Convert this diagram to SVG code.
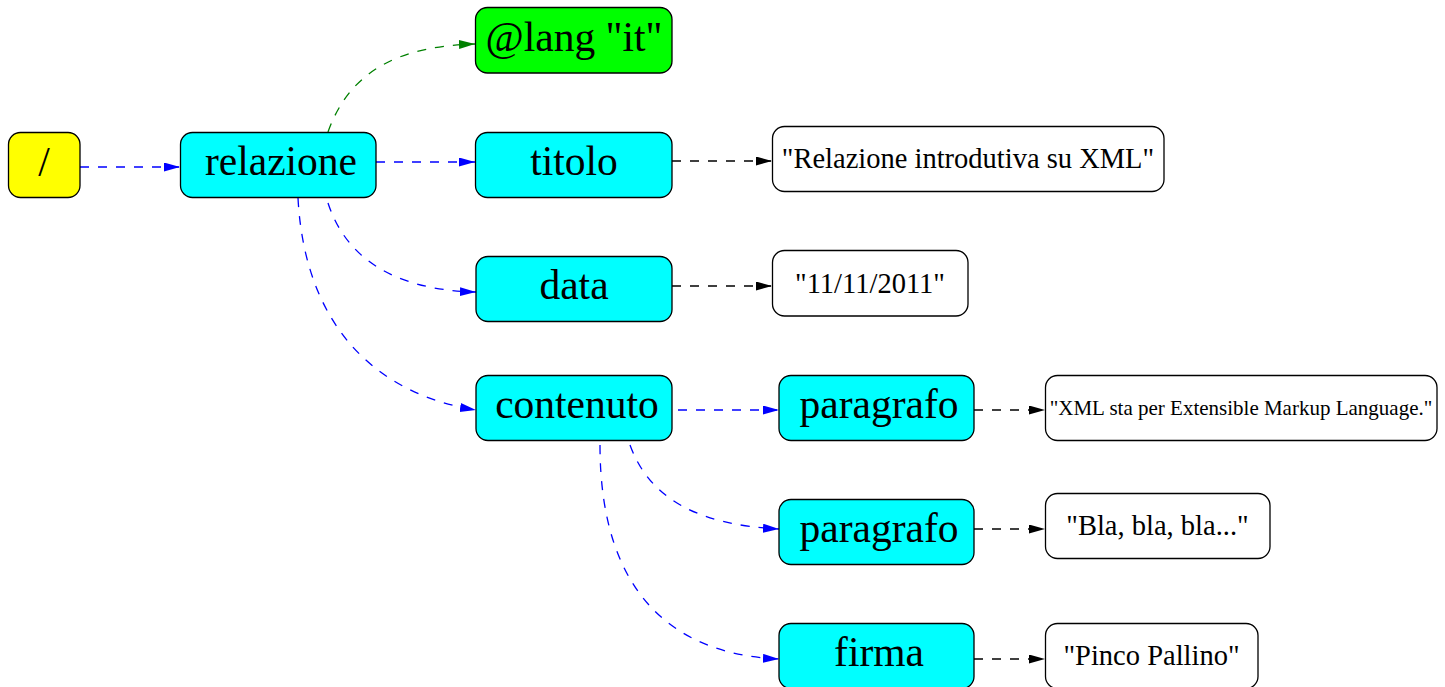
<svg xmlns="http://www.w3.org/2000/svg" width="1445" height="687" viewBox="0 0 1445 687">
<style>
.box{stroke:#000;stroke-width:1.3}
.big{font-family:"Liberation Serif","Times New Roman",serif;font-size:41.5px;text-anchor:middle;fill:#000}
.leaf{font-family:"Liberation Serif","Times New Roman",serif;font-size:28.5px;text-anchor:middle;fill:#000}
.small{font-family:"Liberation Serif","Times New Roman",serif;font-size:21px;text-anchor:middle;fill:#000}
.e{fill:none;stroke-width:1.3;stroke-dasharray:9,9}
.blue{stroke:#0000ff;marker-end:url(#ab)}
.green{stroke:#008000;marker-end:url(#ag)}
.black{stroke:#000;marker-end:url(#ak)}
</style>
<defs>
<marker id="ab" markerUnits="userSpaceOnUse" markerWidth="17" markerHeight="10" refX="16" refY="4.5" orient="auto"><path d="M0,0 L16,4.5 L0,9 z" fill="#0000ff"/></marker>
<marker id="ag" markerUnits="userSpaceOnUse" markerWidth="17" markerHeight="10" refX="16" refY="4.5" orient="auto"><path d="M0,0 L16,4.5 L0,9 z" fill="#008000"/></marker>
<marker id="ak" markerUnits="userSpaceOnUse" markerWidth="17" markerHeight="10" refX="16" refY="4.5" orient="auto"><path d="M0,0 L16,4.5 L0,9 z" fill="#000"/></marker>
</defs>
<rect width="1445" height="687" fill="#fff"/>
<g id="connectors">
<path class="e blue" d="M80,167 L180,167"/>
<path class="e green" d="M328,132 C350,70 400,46 475,44"/>
<path class="e blue" d="M376,162 L475,162"/>
<path class="e blue" d="M328,203 C345,255 390,290 476,292"/>
<path class="e blue" d="M298,198 C305,330 380,395 476,410"/>
<path class="e black" d="M672,161 L772,161"/>
<path class="e black" d="M672,286 L772,286"/>
<path class="e blue" d="M678,410 L779,410"/>
<path class="e blue" d="M630,445 C650,500 700,525 779,529"/>
<path class="e blue" d="M600,445 C600,600 680,655 779,659"/>
<path class="e black" d="M974,410 L1045,410"/>
<path class="e black" d="M974,529 L1045,529"/>
<path class="e black" d="M974,659 L1045,659"/>
</g>
<g id="root"><rect class="box" x="8.5" y="132.5" width="71.5" height="65" rx="12" fill="#ffff00"/><text class="big" x="44" y="176">/</text></g>
<g id="relazione"><rect class="box" x="180.5" y="132.5" width="195.5" height="65" rx="12" fill="#00ffff"/><text class="big" x="281" y="175">relazione</text></g>
<g id="lang"><rect class="box" x="475.5" y="7.5" width="196.5" height="65.5" rx="12" fill="#00ff00"/><text class="big" x="574" y="51">@lang "it"</text></g>
<g id="titolo"><rect class="box" x="475.5" y="132.5" width="196.5" height="65" rx="12" fill="#00ffff"/><text class="big" x="574" y="175">titolo</text></g>
<g id="titolo-val"><rect class="box" x="772.5" y="126.5" width="391.5" height="65" rx="12" fill="#fff"/><text class="leaf" x="968" y="168">"Relazione introdutiva su XML"</text></g>
<g id="data"><rect class="box" x="476" y="256.5" width="196" height="65" rx="12" fill="#00ffff"/><text class="big" x="574" y="299">data</text></g>
<g id="data-val"><rect class="box" x="772.5" y="250.5" width="195.5" height="65.5" rx="12" fill="#fff"/><text class="leaf" x="870" y="293">"11/11/2011"</text></g>
<g id="contenuto"><rect class="box" x="476" y="375.5" width="196" height="65" rx="12" fill="#00ffff"/><text class="big" x="577" y="418">contenuto</text></g>
<g id="paragrafo1"><rect class="box" x="779" y="375.5" width="195" height="65" rx="12" fill="#00ffff"/><text class="big" x="879" y="418">paragrafo</text></g>
<g id="paragrafo1-val"><rect class="box" x="1045.5" y="375.5" width="391.5" height="65" rx="12" fill="#fff"/><text class="small" x="1241" y="415">"XML sta per Extensible Markup Language."</text></g>
<g id="paragrafo2"><rect class="box" x="779" y="499.5" width="195" height="65" rx="12" fill="#00ffff"/><text class="big" x="879" y="542">paragrafo</text></g>
<g id="paragrafo2-val"><rect class="box" x="1045.5" y="493.5" width="224.5" height="65" rx="12" fill="#fff"/><text class="leaf" x="1157.5" y="535">"Bla, bla, bla..."</text></g>
<g id="firma"><rect class="box" x="779" y="623.5" width="195" height="65" rx="12" fill="#00ffff"/><text class="big" x="879" y="666">firma</text></g>
<g id="firma-val"><rect class="box" x="1045.5" y="623.5" width="212.5" height="65" rx="12" fill="#fff"/><text class="leaf" x="1151.5" y="665">"Pinco Pallino"</text></g>
</svg>
